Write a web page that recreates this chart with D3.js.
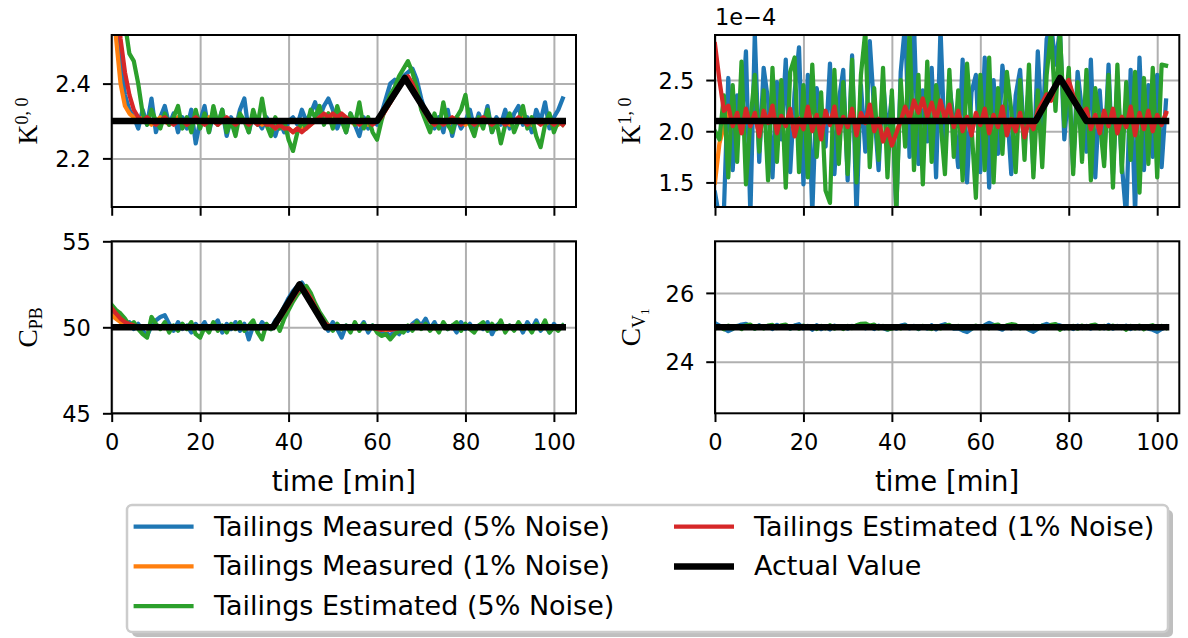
<!DOCTYPE html>
<html>
<head>
<meta charset="utf-8">
<script src="https://cdn.jsdelivr.net/npm/d3@7"></script>
<style>
  body { margin: 0; background: #ffffff; }
  svg { display: block; }
</style>
</head>
<body>
<svg id="fig" width="1188" height="638"></svg>
<script>
// ---------------------------------------------------------------------------
// Sampling instants [min] and shared x-axis ticks
// ---------------------------------------------------------------------------
const timeMin = d3.range(0, 103);
const timeTicks = [0, 20, 40, 60, 80, 100];
const timeDomain = [0, 105];

const seriesNames = [
  "Tailings Measured (5% Noise)",
  "Tailings Measured (1% Noise)",
  "Tailings Estimated (5% Noise)",
  "Tailings Estimated (1% Noise)",
  "Actual Value"
];
const seriesColors = ["#1f77b4", "#ff7f0e", "#2ca02c", "#d62728", "#000000"];

// ---------------------------------------------------------------------------
// K^{0,0}
// ---------------------------------------------------------------------------
const k00Measured5 = [
  2.80, 2.62, 2.47, 2.37, 2.33, 2.31, 2.28, 2.33, 2.29, 2.36,
  2.27, 2.31, 2.34, 2.29, 2.32, 2.27, 2.31, 2.28, 2.33, 2.24,
  2.30, 2.34, 2.27, 2.32, 2.29, 2.33, 2.26, 2.31, 2.28, 2.33,
  2.36, 2.27, 2.32, 2.30, 2.28, 2.31, 2.29, 2.26, 2.30, 2.27,
  2.30, 2.31, 2.29, 2.33, 2.30, 2.32, 2.35, 2.31, 2.34, 2.36,
  2.33, 2.28, 2.31, 2.27, 2.32, 2.29, 2.26, 2.31, 2.28, 2.30,
  2.29, 2.32, 2.36, 2.40, 2.41, 2.39, 2.42, 2.43, 2.44, 2.41,
  2.36, 2.32, 2.30, 2.28, 2.31, 2.27, 2.33, 2.26, 2.31, 2.28,
  2.30, 2.33, 2.28, 2.32, 2.29, 2.34, 2.27, 2.31, 2.29, 2.33,
  2.28, 2.32, 2.34, 2.29, 2.31, 2.27, 2.33, 2.30, 2.35, 2.28,
  2.31, 2.33, 2.36
];
const k00Measured1 = [
  2.75, 2.52, 2.40, 2.34, 2.32, 2.31, 2.30, 2.31, 2.30, 2.29,
  2.30, 2.31, 2.30, 2.29, 2.30, 2.31, 2.30, 2.29, 2.30, 2.30,
  2.29, 2.30, 2.31, 2.30, 2.29, 2.30, 2.30, 2.29, 2.30, 2.31,
  2.30, 2.29, 2.30, 2.30, 2.29, 2.30, 2.29, 2.28, 2.29, 2.28,
  2.28, 2.27, 2.28, 2.28, 2.28, 2.29, 2.30, 2.31, 2.31, 2.32,
  2.31, 2.32, 2.31, 2.30, 2.30, 2.29, 2.30, 2.30, 2.29, 2.30,
  2.30, 2.31, 2.33, 2.35, 2.37, 2.39, 2.41, 2.41, 2.40, 2.37,
  2.34, 2.31, 2.30, 2.29, 2.30, 2.30, 2.29, 2.30, 2.31, 2.30,
  2.29, 2.30, 2.30, 2.29, 2.30, 2.31, 2.30, 2.29, 2.30, 2.30,
  2.29, 2.30, 2.30, 2.31, 2.30, 2.29, 2.30, 2.30, 2.29, 2.30,
  2.30, 2.29, 2.30
];
const k00Estimated5 = [
  3.00, 2.85, 2.70, 2.56, 2.48, 2.46, 2.40, 2.32, 2.29, 2.33,
  2.30, 2.28, 2.32, 2.29, 2.31, 2.34, 2.28, 2.31, 2.27, 2.33,
  2.28, 2.32, 2.27, 2.34, 2.29, 2.33, 2.27, 2.30, 2.26, 2.32,
  2.30, 2.27, 2.33, 2.29, 2.36, 2.29, 2.26, 2.31, 2.28, 2.30,
  2.25, 2.22, 2.27, 2.30, 2.28, 2.33, 2.31, 2.34, 2.29, 2.32,
  2.28, 2.34, 2.30, 2.27, 2.32, 2.29, 2.35, 2.28, 2.31, 2.27,
  2.25, 2.30, 2.34, 2.37, 2.39, 2.42, 2.44, 2.46, 2.43, 2.39,
  2.33, 2.30, 2.27, 2.32, 2.28, 2.35, 2.29, 2.27, 2.31, 2.33,
  2.37, 2.29, 2.26, 2.31, 2.28, 2.33, 2.27, 2.30, 2.24, 2.29,
  2.32, 2.27, 2.30, 2.34, 2.28, 2.31, 2.26, 2.23, 2.29, 2.32,
  2.27, 2.30, 2.29
];
const k00Estimated1 = [
  2.90, 2.68, 2.52, 2.43, 2.37, 2.33, 2.31, 2.30, 2.31, 2.30,
  2.29, 2.30, 2.31, 2.30, 2.29, 2.30, 2.30, 2.29, 2.30, 2.31,
  2.30, 2.29, 2.30, 2.30, 2.29, 2.30, 2.31, 2.30, 2.29, 2.30,
  2.30, 2.29, 2.30, 2.29, 2.30, 2.29, 2.29, 2.28, 2.29, 2.28,
  2.28, 2.27, 2.28, 2.27, 2.28, 2.29, 2.30, 2.31, 2.32, 2.31,
  2.32, 2.31, 2.32, 2.31, 2.30, 2.30, 2.29, 2.30, 2.30, 2.29,
  2.30, 2.31, 2.33, 2.35, 2.37, 2.39, 2.41, 2.42, 2.40, 2.37,
  2.34, 2.32, 2.30, 2.29, 2.30, 2.29, 2.30, 2.31, 2.30, 2.29,
  2.30, 2.30, 2.29, 2.30, 2.31, 2.30, 2.29, 2.30, 2.30, 2.29,
  2.30, 2.30, 2.31, 2.30, 2.29, 2.30, 2.30, 2.29, 2.30, 2.30,
  2.29, 2.30, 2.29
];
const k00ActualTime = [0, 60, 66.3, 72.4, 102];
const k00ActualValue = [2.3, 2.3, 2.415, 2.3, 2.3];
const k00Ticks = [2.2, 2.4];
const k00Domain = [2.07, 2.53];

// ---------------------------------------------------------------------------
// K^{1,0}  (values in units of 1e-4)
// ---------------------------------------------------------------------------
const k10Measured5 = [
  1.40, 1.15, 1.20, 2.52, 1.62, 2.35, 2.05, 2.78, 1.18, 2.95,
  1.70, 2.62, 2.30, 1.55, 2.48, 1.92, 2.70, 1.60, 2.38, 2.82,
  1.48, 2.55, 1.20, 2.42, 2.15, 1.85, 2.66, 1.58, 2.30, 2.60,
  1.52, 2.74, 1.18, 2.45, 1.80, 2.88, 2.20, 1.62, 2.50, 1.95,
  2.35, 1.22, 2.58, 3.05, 1.75, 3.05, 1.68, 2.40, 1.90, 2.62,
  1.55, 3.00, 1.80, 2.45, 2.10, 1.65, 2.70, 1.50, 2.38, 2.55,
  1.60, 2.72, 1.45, 2.50, 1.78, 2.64, 2.25, 1.58, 2.35, 2.60,
  1.85, 2.48, 1.62, 2.78, 1.95, 2.90, 3.05, 2.65, 3.00, 1.92,
  2.45, 1.65, 2.58, 2.20, 1.80, 2.70, 1.55, 2.40, 1.72, 2.65,
  1.58, 2.52, 1.68, 1.15, 2.60, 1.20, 2.72, 1.62, 2.45, 1.75,
  2.55, 1.65, 2.30
];
const k10Measured1 = [
  1.50, 1.88, 2.05, 2.18, 2.08, 2.15, 2.00, 2.20, 2.06, 2.16,
  1.97, 2.18, 2.10, 2.22, 2.00, 2.14, 2.06, 2.20, 1.97, 2.13,
  2.04, 2.22, 2.02, 2.15, 1.95, 2.18, 2.07, 2.22, 2.00, 2.15,
  2.05, 2.20, 1.98, 2.16, 2.08, 2.24, 2.02, 2.12, 1.92, 2.03,
  1.88, 2.00, 2.10, 2.22, 2.13, 2.28, 2.18, 2.30, 2.15, 2.26,
  2.11, 2.28, 2.13, 2.24, 2.05, 2.19, 2.02, 2.14, 1.98, 2.17,
  2.07, 2.20, 2.00, 2.15, 2.05, 2.22, 1.98, 2.12, 2.02, 2.17,
  1.96, 2.10, 2.03, 2.19, 2.27, 2.34, 2.30, 2.43, 2.50, 2.43,
  2.48, 2.34, 2.26, 2.19, 2.21, 2.04, 2.15, 2.00, 2.19, 2.06,
  2.20, 2.00, 2.14, 2.05, 2.22, 1.98, 2.17, 2.03, 2.19, 2.02,
  2.15, 2.07, 2.17
];
const k10Estimated5 = [
  2.00, 1.92, 2.35, 1.55, 2.45, 1.70, 2.68, 1.48, 2.10, 2.55,
  1.80, 2.40, 1.52, 2.62, 1.70, 2.50, 1.45, 2.58, 2.72, 1.60,
  2.45, 1.55, 2.65, 1.75, 2.38, 1.42, 1.30, 2.60, 1.68, 2.48,
  1.58, 2.70, 1.50, 2.55, 2.98, 1.65, 2.42, 1.72, 2.62, 1.55,
  2.40, 1.22, 2.50, 1.85, 2.98, 1.62, 2.55, 1.48, 2.68, 1.70,
  2.45, 2.10, 1.58, 2.60, 1.75, 2.40, 1.52, 2.66, 2.05, 1.35,
  2.55, 1.62, 2.72, 1.50, 2.42, 1.78, 2.58, 2.20, 1.60, 2.50,
  1.72, 2.65, 1.55, 2.40, 1.65, 2.55, 2.98, 2.20, 2.98, 2.05,
  2.62, 1.58, 2.48, 1.70, 2.60, 1.52, 2.42, 2.10, 1.66, 2.55,
  1.45, 2.65, 1.60, 2.48, 1.72, 2.58, 1.40, 2.52, 1.68, 2.62,
  1.55, 2.65, 2.64
];
const k10Estimated1 = [
  2.85, 2.50, 2.20, 2.25, 2.05, 2.18, 1.98, 2.22, 2.05, 2.18,
  1.95, 2.20, 2.08, 2.25, 1.98, 2.15, 2.05, 2.22, 1.95, 2.12,
  2.02, 2.24, 2.00, 2.16, 1.92, 2.20, 2.06, 2.24, 1.98, 2.14,
  2.04, 2.22, 1.96, 2.18, 2.08, 2.26, 2.00, 2.12, 1.90, 2.02,
  1.86, 1.98, 2.10, 2.24, 2.12, 2.30, 2.18, 2.32, 2.14, 2.28,
  2.10, 2.30, 2.12, 2.26, 2.04, 2.20, 2.00, 2.14, 1.96, 2.18,
  2.06, 2.22, 1.98, 2.16, 2.04, 2.24, 1.96, 2.12, 2.00, 2.18,
  1.94, 2.10, 2.02, 2.20, 2.28, 2.36, 2.30, 2.45, 2.52, 2.44,
  2.50, 2.35, 2.26, 2.18, 2.22, 2.02, 2.16, 1.98, 2.20, 2.05,
  2.22, 1.98, 2.14, 2.04, 2.24, 1.96, 2.18, 2.02, 2.20, 2.00,
  2.16, 2.06, 2.18
];
const k10ActualTime = [0, 72.5, 78, 84, 102];
const k10ActualValue = [2.1, 2.1, 2.52, 2.1, 2.1];
const k10Ticks = [1.5, 2.0, 2.5];
const k10Domain = [1.26, 2.94];

// ---------------------------------------------------------------------------
// C_PB
// ---------------------------------------------------------------------------
const cpbMeasured5 = [
  51.0, 50.7, 50.4, 50.2, 50.3, 49.9, 50.2, 49.8, 49.5, 50.1,
  50.4, 50.6, 50.7, 50.2, 49.8, 50.3, 49.9, 50.1, 49.7, 50.2,
  49.9, 50.3, 49.8, 50.1, 50.4, 49.7, 50.2, 49.9, 50.3, 49.8,
  50.2, 49.3, 50.1, 49.8, 50.3, 50.0, 49.9, 50.4, 50.7, 51.2,
  51.7, 52.1, 52.4, 52.6, 52.2, 51.6, 51.1, 50.6, 50.2, 49.8,
  50.3, 49.9, 49.4, 50.1, 49.8, 50.2, 49.9, 50.3, 49.7, 50.1,
  49.8, 49.6, 49.7, 49.5, 49.8, 49.6, 50.0, 49.8, 50.2, 50.4,
  50.1, 50.5, 49.9, 50.3, 49.8, 50.2, 49.9, 50.1, 49.7, 50.3,
  49.9, 50.2, 49.8, 50.1, 49.9, 50.3, 49.6, 50.1, 50.3, 49.8,
  50.1, 49.9, 50.2, 49.7, 50.3, 49.9, 50.4, 49.8, 50.1, 49.7,
  50.2, 49.9, 50.1
];
const cpbMeasured1 = [
  50.7, 50.5, 50.3, 50.2, 50.1, 50.05, 50.0, 50.0, 49.95, 50.0,
  50.05, 50.0, 50.0, 49.95, 50.0, 50.05, 50.0, 49.95, 50.0, 50.0,
  50.05, 50.0, 49.95, 50.0, 50.05, 50.0, 49.95, 50.0, 50.0, 50.05,
  50.0, 50.0, 49.95, 50.05, 50.0, 50.0, 50.0, 50.1, 50.5, 50.9,
  51.3, 51.7, 52.1, 52.3, 52.1, 51.7, 51.2, 50.7, 50.3, 50.1,
  50.0, 50.0, 49.95, 50.05, 50.0, 49.95, 50.0, 50.05, 50.0, 49.95,
  49.9, 49.9, 49.85, 49.9, 49.9, 49.95, 50.0, 50.05, 50.05, 50.1,
  50.05, 50.0, 50.0, 49.95, 50.05, 50.0, 49.95, 50.0, 50.05, 50.0,
  50.0, 49.95, 50.05, 50.0, 50.0, 49.95, 50.0, 50.05, 50.0, 49.95,
  50.0, 50.05, 50.0, 49.95, 50.0, 50.05, 50.0, 50.0, 49.95, 50.0,
  50.0, 50.05, 50.0
];
const cpbEstimated5 = [
  51.3, 51.0, 50.8, 50.5, 50.1, 50.3, 49.9, 49.6, 49.4, 50.6,
  50.2, 49.9, 50.3, 49.7, 50.1, 49.8, 50.2, 49.9, 50.3, 49.6,
  49.4, 50.0, 49.7, 50.3, 49.8, 50.1, 49.7, 50.2, 49.9, 50.3,
  49.8, 50.1, 50.4, 49.7, 49.3, 50.2, 49.9, 50.3, 49.8, 50.5,
  51.0, 51.5, 51.9, 52.2, 52.4, 52.0, 51.4, 50.9, 50.5, 50.1,
  49.8, 50.2, 49.9, 50.1, 49.7, 50.3, 49.8, 50.2, 49.9, 50.1,
  49.7, 49.5, 49.6, 49.3, 49.6, 49.8, 49.7, 50.1, 49.8, 50.3,
  49.9, 50.2, 49.8, 50.1, 49.7, 50.3, 49.9, 50.1, 50.3, 49.8,
  50.2, 49.9, 49.7, 50.1, 50.3, 49.8, 50.2, 49.9, 50.4, 49.7,
  50.1, 49.8, 50.3, 49.9, 50.1, 49.7, 50.2, 49.9, 50.4, 49.7,
  50.0, 49.8, 50.1
];
const cpbEstimated1 = [
  51.1, 50.8, 50.5, 50.3, 50.2, 50.1, 50.0, 50.05, 49.95, 50.0,
  50.05, 50.0, 49.95, 50.0, 50.05, 50.0, 49.95, 50.0, 50.0, 50.05,
  49.95, 50.0, 50.05, 50.0, 49.95, 50.0, 50.0, 50.05, 49.95, 50.0,
  50.0, 49.95, 50.05, 50.0, 49.95, 50.0, 50.0, 50.1, 50.5, 50.9,
  51.3, 51.7, 52.1, 52.3, 52.1, 51.7, 51.2, 50.7, 50.3, 50.1,
  50.0, 50.05, 49.95, 50.0, 50.05, 49.95, 50.0, 50.0, 49.95, 50.0,
  49.9, 49.85, 49.9, 49.85, 49.9, 49.95, 50.0, 50.05, 50.1, 50.05,
  50.1, 50.0, 50.05, 49.95, 50.0, 50.05, 50.0, 49.95, 50.0, 50.05,
  50.0, 49.95, 50.0, 50.05, 50.0, 49.95, 50.0, 50.0, 50.05, 49.95,
  50.0, 50.0, 50.05, 49.95, 50.0, 50.0, 50.05, 49.95, 50.0, 50.0,
  50.05, 49.95, 50.0
];
const cpbActualTime = [0, 36.5, 42.5, 48.4, 102];
const cpbActualValue = [50, 50, 52.5, 50, 50];
const cpbTicks = [45, 50, 55];
const cpbDomain = [45, 55];

// ---------------------------------------------------------------------------
// C_{V_1}
// ---------------------------------------------------------------------------
const cv1Measured5 = [
  25.12, 25.05, 24.97, 24.89, 24.95, 25.03, 25.08, 25.10, 25.02, 24.96,
  25.06, 24.98, 25.04, 24.95, 25.07, 24.99, 25.03, 24.96, 25.05, 25.09,
  24.97, 25.04, 24.93, 25.06, 24.95, 25.02, 24.94, 25.05, 24.98, 25.03,
  24.96, 25.04, 24.99, 25.06, 24.97, 25.03, 24.95, 25.05, 24.98, 24.93,
  25.03, 24.96, 25.05, 25.08, 24.97, 25.04, 24.95, 25.02, 24.96, 25.06,
  24.94, 25.05, 25.09, 25.02, 24.96, 24.97, 24.91, 24.86, 24.95, 25.03,
  24.98, 25.06, 25.13, 25.07, 24.98, 24.93, 25.04, 24.97, 25.05, 24.99,
  25.02, 24.93, 24.87, 24.96, 25.05, 25.10, 25.04, 25.08, 25.06, 24.97,
  25.03, 24.95, 25.05, 24.98, 25.04, 24.96, 25.06, 25.02, 24.97, 25.07,
  24.96, 25.04, 24.98, 25.05, 24.95, 25.03, 24.97, 25.02, 24.96, 24.93,
  24.87, 24.95, 25.02
];
const cv1Measured1 = [
  25.02, 25.01, 24.99, 25.00, 25.01, 24.99, 25.00, 25.02, 24.99, 25.01,
  25.00, 24.99, 25.01, 25.00, 24.98, 25.01, 25.00, 25.02, 24.99, 25.00,
  25.01, 24.99, 25.00, 25.01, 24.99, 25.00, 25.02, 24.99, 25.00, 25.01,
  24.99, 25.00, 25.01, 25.02, 25.00, 24.99, 25.01, 25.00, 24.99, 25.01,
  25.00, 24.98, 25.01, 25.00, 25.01, 24.99, 25.00, 25.02, 24.99, 25.00,
  25.01, 24.99, 25.00, 25.01, 24.99, 25.00, 24.98, 24.99, 25.01, 25.00,
  25.01, 25.02, 25.01, 24.99, 25.00, 25.01, 24.99, 25.00, 25.01, 24.99,
  25.00, 24.98, 24.99, 25.01, 25.00, 25.02, 25.01, 25.00, 24.99, 25.01,
  25.00, 24.99, 25.01, 25.00, 24.99, 25.01, 25.00, 25.02, 24.99, 25.00,
  25.01, 24.99, 25.00, 25.01, 24.99, 25.00, 25.01, 24.99, 25.00, 24.99,
  24.98, 25.00, 25.01
];
const cv1Estimated5 = [
  24.96, 25.03, 24.94, 25.05, 24.97, 25.04, 24.95, 25.06, 25.08, 24.96,
  25.04, 24.97, 25.05, 25.07, 24.98, 25.06, 25.08, 24.97, 25.04, 24.96,
  25.05, 24.98, 25.03, 24.95, 25.04, 24.97, 25.06, 24.96, 25.03, 24.95,
  25.04, 24.98, 25.06, 25.10, 25.11, 25.05, 25.08, 24.97, 25.04, 24.94,
  24.96, 25.03, 24.97, 25.05, 24.98, 25.03, 24.96, 25.04, 24.98, 24.95,
  25.03, 24.97, 25.05, 25.07, 24.98, 25.04, 24.96, 25.03, 24.97, 25.05,
  24.98, 25.04, 24.97, 25.06, 25.08, 24.98, 25.06, 25.09, 25.07, 24.97,
  25.03, 24.96, 25.04, 24.97, 25.05, 24.98, 25.07, 25.09, 24.93, 25.03,
  24.97, 25.04, 24.96, 25.05, 24.98, 25.06, 25.08, 24.97, 25.04, 24.96,
  25.05, 24.98, 25.03, 24.93, 25.04, 24.97, 25.05, 24.94, 25.03, 25.06,
  24.97, 25.04, 24.98
];
const cv1Estimated1 = [
  25.03, 25.01, 24.99, 25.00, 25.02, 24.99, 25.01, 25.00, 24.98, 25.01,
  25.00, 25.01, 24.99, 25.00, 25.01, 24.99, 25.00, 25.01, 25.00, 24.99,
  25.01, 25.00, 24.99, 25.01, 25.00, 25.02, 24.99, 25.00, 25.01, 24.99,
  25.00, 25.01, 25.00, 25.02, 25.01, 24.99, 25.00, 25.01, 24.99, 25.00,
  25.01, 24.99, 25.00, 25.01, 25.00, 24.99, 25.01, 25.00, 24.99, 25.01,
  25.00, 25.01, 25.02, 25.00, 24.99, 25.00, 24.98, 24.99, 25.00, 25.01,
  25.00, 25.01, 25.02, 25.01, 25.00, 24.99, 25.00, 25.01, 25.00, 24.99,
  25.01, 24.99, 24.98, 25.00, 25.01, 25.02, 25.01, 25.01, 25.00, 24.99,
  25.01, 25.00, 24.99, 25.01, 25.00, 24.99, 25.01, 25.00, 24.99, 25.01,
  25.00, 25.01, 24.99, 25.00, 25.01, 24.99, 25.00, 25.01, 24.99, 25.00,
  24.99, 25.00, 25.01
];
const cv1ActualTime = [0, 102];
const cv1ActualValue = [25, 25];
const cv1Ticks = [24, 26];
const cv1Domain = [22.5, 27.5];

// ---------------------------------------------------------------------------
// Layout
// ---------------------------------------------------------------------------
const svg = d3.select("#fig");
svg.append("rect").attr("width", 1188).attr("height", 638).attr("fill", "#ffffff");

const colLeft = [111.7, 715];
const colWidth = 464.3;
const rowTop = [35, 241.3];
const rowHeight = 172;

const TICK_FONT = 22.5;
const LABEL_FONT = 27.5;
const LEGEND_FONT = 27;
const LW = 4.25;
const LW_ACTUAL = 6.5;

const panels = [
  { key: "k00", col: 0, row: 0, domain: k00Domain, ticks: k00Ticks, fmt: d3.format(".1f"),
    series: [k00Measured5, k00Measured1, k00Estimated5, k00Estimated1],
    actual: [k00ActualTime, k00ActualValue],
    label: { base: "K", sup: "0, 0" } },
  { key: "k10", col: 1, row: 0, domain: k10Domain, ticks: k10Ticks, fmt: d3.format(".1f"),
    series: [k10Measured5, k10Measured1, k10Estimated5, k10Estimated1],
    actual: [k10ActualTime, k10ActualValue],
    label: { base: "K", sup: "1, 0" }, offsetText: "1e\u22124" },
  { key: "cpb", col: 0, row: 1, domain: cpbDomain, ticks: cpbTicks, fmt: d3.format("d"),
    series: [cpbMeasured5, cpbMeasured1, cpbEstimated5, cpbEstimated1],
    actual: [cpbActualTime, cpbActualValue],
    label: { base: "C", sub: "PB" } },
  { key: "cv1", col: 1, row: 1, domain: cv1Domain, ticks: cv1Ticks, fmt: d3.format("d"),
    series: [cv1Measured5, cv1Measured1, cv1Estimated5, cv1Estimated1],
    actual: [cv1ActualTime, cv1ActualValue],
    label: { base: "C", sub: "V", subsub: "1" } }
];

function styleAxis(g, fontSize) {
  g.select(".domain").remove();
  g.selectAll(".tick line").attr("stroke", "#000").attr("stroke-width", 2);
  g.selectAll(".tick text")
    .attr("fill", "#000")
    .attr("font-family", "'DejaVu Sans', sans-serif")
    .attr("font-size", fontSize);
}

panels.forEach(p => {
  const left = colLeft[p.col];
  const top = rowTop[p.row];
  const x = d3.scaleLinear().domain(timeDomain).range([left, left + colWidth]);
  const y = d3.scaleLinear().domain(p.domain).range([top + rowHeight, top]);

  const g = svg.append("g").attr("class", "panel-" + p.key);

  // grid
  g.append("g")
    .attr("transform", `translate(0,${top + rowHeight})`)
    .call(d3.axisBottom(x).tickValues(timeTicks).tickSize(-rowHeight).tickFormat(""))
    .call(gg => { gg.select(".domain").remove(); gg.selectAll("line").attr("stroke", "#b0b0b0").attr("stroke-width", 2); });
  g.append("g")
    .attr("transform", `translate(${left},0)`)
    .call(d3.axisLeft(y).tickValues(p.ticks).tickSize(-colWidth).tickFormat(""))
    .call(gg => { gg.select(".domain").remove(); gg.selectAll("line").attr("stroke", "#b0b0b0").attr("stroke-width", 2); });

  // clip region
  const clipId = "clip-" + p.key;
  svg.append("clipPath").attr("id", clipId)
    .append("rect").attr("x", left).attr("y", top).attr("width", colWidth).attr("height", rowHeight);

  const lines = g.append("g").attr("clip-path", `url(#${clipId})`);
  const sampled = d3.line().x((d, i) => x(timeMin[i])).y(d => y(d));

  p.series.forEach((vals, si) => {
    lines.append("path")
      .attr("d", sampled(vals))
      .attr("fill", "none")
      .attr("stroke", seriesColors[si])
      .attr("stroke-width", LW)
      .attr("stroke-linejoin", "round")
      .attr("stroke-linecap", "square");
  });

  const [aT, aV] = p.actual;
  const actualLine = d3.line().x((d, i) => x(aT[i])).y(d => y(d));
  lines.append("path")
    .attr("d", actualLine(aV))
    .attr("fill", "none")
    .attr("stroke", seriesColors[4])
    .attr("stroke-width", LW_ACTUAL)
    .attr("stroke-linejoin", "round")
    .attr("stroke-linecap", "square");

  // spines
  g.append("rect")
    .attr("x", left).attr("y", top).attr("width", colWidth).attr("height", rowHeight)
    .attr("fill", "none").attr("stroke", "#000").attr("stroke-width", 2);

  // x axis ticks (labels only on the bottom row)
  const xAxis = d3.axisBottom(x).tickValues(timeTicks).tickSize(8.75).tickPadding(11.5).tickSizeOuter(0);
  if (p.row === 0) xAxis.tickFormat("");
  g.append("g")
    .attr("transform", `translate(0,${top + rowHeight})`)
    .call(xAxis)
    .call(gg => styleAxis(gg, TICK_FONT));

  // y axis
  g.append("g")
    .attr("transform", `translate(${left},0)`)
    .call(d3.axisLeft(y).tickValues(p.ticks).tickSize(8.75).tickPadding(12).tickFormat(p.fmt).tickSizeOuter(0))
    .call(gg => styleAxis(gg, TICK_FONT))
    .call(gg => gg.selectAll(".tick text").attr("dy", "0.36em"));

  if (p.offsetText) {
    g.append("text")
      .attr("x", left).attr("y", top - 10)
      .attr("font-family", "'DejaVu Sans', sans-serif")
      .attr("font-size", TICK_FONT)
      .text(p.offsetText);
  }

  if (p.row === 1) {
    g.append("text")
      .attr("x", left + colWidth / 2).attr("y", 491)
      .attr("text-anchor", "middle")
      .attr("font-family", "'DejaVu Sans', sans-serif")
      .attr("font-size", LABEL_FONT)
      .text("time [min]");
  }

  // y label (serif math style)
  const lab = g.append("text")
    .attr("transform", `translate(${left - 75},${top + rowHeight / 2}) rotate(-90)`)
    .attr("text-anchor", "middle")
    .attr("font-family", "'Liberation Serif', 'DejaVu Serif', serif")
    .attr("font-size", LABEL_FONT);
  lab.append("tspan").text(p.label.base);
  if (p.label.sup) {
    lab.append("tspan").attr("dy", -9).attr("font-size", 18).text(p.label.sup);
  }
  if (p.label.sub) {
    lab.append("tspan").attr("dy", 5).attr("font-size", 18).text(p.label.sub);
  }
  if (p.label.subsub) {
    lab.append("tspan").attr("dy", 4).attr("font-size", 13).text(p.label.subsub);
  }
});

// ---------------------------------------------------------------------------
// Legend
// ---------------------------------------------------------------------------
const legend = svg.append("g").attr("class", "legend");
const box = { x: 127, y: 505, w: 1041, h: 127 };
legend.append("rect")
  .attr("x", box.x + 5).attr("y", box.y + 5).attr("width", box.w).attr("height", box.h)
  .attr("rx", 5).attr("fill", "#808080").attr("opacity", 0.5);
legend.append("rect")
  .attr("x", box.x).attr("y", box.y).attr("width", box.w).attr("height", box.h)
  .attr("rx", 5).attr("fill", "#ffffff").attr("stroke", "#cccccc").attr("stroke-width", 2.5);

const legendCols = [{ hx: 133.6, tx: 214 }, { hx: 674, tx: 754 }];
const legendRows = [526.7, 566.4, 606.1];
const legendSlots = [[0, 0], [0, 1], [0, 2], [1, 0], [1, 1]];

seriesNames.forEach((name, i) => {
  const [c, r] = legendSlots[i];
  const yy = legendRows[r];
  legend.append("line")
    .attr("x1", legendCols[c].hx).attr("x2", legendCols[c].hx + 60)
    .attr("y1", yy).attr("y2", yy)
    .attr("stroke", seriesColors[i])
    .attr("stroke-width", i === 4 ? LW_ACTUAL : LW);
  legend.append("text")
    .attr("x", legendCols[c].tx).attr("y", yy + 9)
    .attr("font-family", "'DejaVu Sans', sans-serif")
    .attr("font-size", LEGEND_FONT)
    .text(name);
});
</script>
</body>
</html>
